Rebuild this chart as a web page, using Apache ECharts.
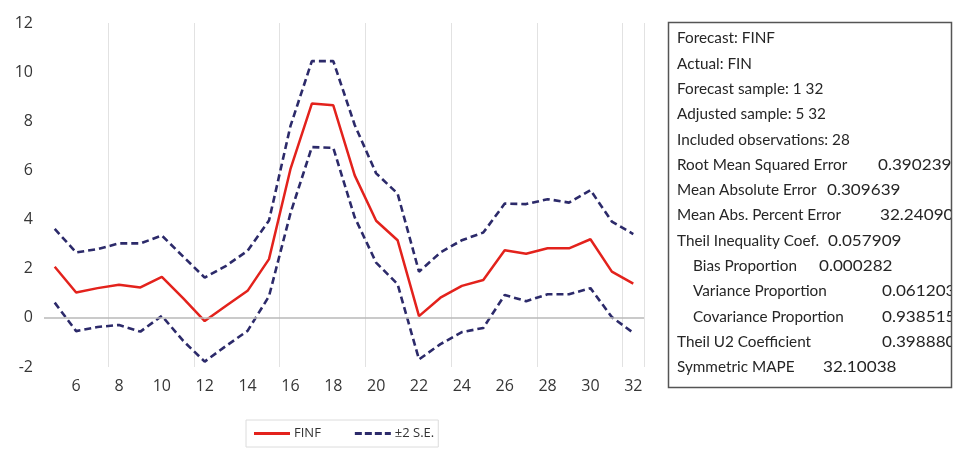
<!DOCTYPE html>
<html>
<head>
<meta charset="utf-8">
<script src="https://cdn.jsdelivr.net/npm/echarts@6/dist/echarts.min.js"></script>
<style>
html,body{margin:0;padding:0;background:#fff;}
#chart{width:954px;height:449px;}
</style>
</head>
<body>
<div id="chart"></div>
<script>
// ---- data ----
var categories = ['5','6','7','8','9','10','11','12','13','14','15','16','17','18','19','20','21','22','23','24','25','26','27','28','29','30','31','32'];
var finf  = [2.08,1.03,1.21,1.35,1.24,1.67,0.79,-0.13,0.49,1.10,2.39,6.05,8.72,8.65,5.80,3.95,3.16,0.07,0.82,1.30,1.54,2.75,2.61,2.83,2.83,3.20,1.88,1.39];
var upper = [3.62,2.66,2.80,3.03,3.03,3.35,2.49,1.64,2.12,2.73,3.96,7.80,10.45,10.45,7.85,5.88,5.06,1.88,2.66,3.16,3.47,4.65,4.63,4.83,4.69,5.20,3.92,3.41];
var lower = [0.62,-0.54,-0.37,-0.29,-0.56,0.08,-0.94,-1.78,-1.14,-0.53,0.88,4.25,6.95,6.92,4.09,2.25,1.37,-1.69,-1.07,-0.58,-0.41,0.93,0.68,0.96,0.96,1.21,0.03,-0.61];
var yTicks = [-2,0,2,4,6,8,10,12];
var seriesNames = ['FINF','\u00b12 S.E.'];
var statLabels = ['Forecast: FINF','Actual: FIN','Forecast sample: 1 32','Adjusted sample: 5 32','Included observations: 28','Root Mean Squared Error','Mean Absolute Error','Mean Abs. Percent Error','Theil Inequality Coef.','Bias Proportion','Variance Proportion','Covariance Proportion','Theil U2 Coefficient','Symmetric MAPE'];
var statValues = ['','','','','','0.390239','0.309639','32.24090','0.057909','0.000282','0.061203','0.938515','0.398880','32.10038'];

// ---- layout (not data) ----
var statIndent = [0,0,0,0,0,0,0,0,0,1,1,1,0,0];
var statValueX = [0,0,0,0,0,878,827,880,828,819,882,882,882,823];

var graphics = [{
  type:'rect', shape:{x:668.5,y:22.5,width:283,height:365},
  style:{fill:'#fff',stroke:null}, z:0
}];
for (var i=0;i<statLabels.length;i++){
  var cy = 38.5 + i*25.3;
  graphics.push({type:'text', x: statIndent[i]?693:677, y: cy, scaleX:1.02,
    style:{text:statLabels[i], font:'15px Lato', fill:'#262626', textVerticalAlign:'middle'}, z:1});
  if (statValues[i]) {
    graphics.push({type:'text', x: statValueX[i], y: cy, scaleX:1.14,
      style:{text:statValues[i], font:'15px Lato', fill:'#262626', textVerticalAlign:'middle'}, z:1});
  }
}
// mask beyond the right border, then the border on top
graphics.push({type:'rect', shape:{x:952,y:0,width:10,height:449}, style:{fill:'#fff'}, z:2});
graphics.push({type:'rect', shape:{x:668.5,y:22.5,width:283,height:365},
  style:{fill:'none',stroke:'#555',lineWidth:1.5}, z:3});

var solidIcon = 'path://M0,0h36v3h-36z';
var dashIcon = 'path://M0,0h7v3h-7z M10,0h7v3h-7z M20,0h7v3h-7z M30,0h6v3h-6z';

var chart = echarts.init(document.getElementById('chart'), null, {renderer:'canvas'});
var dashStyle = {color:'#2c2a6a', width:2.6, type:[7,4]};
chart.setOption({
  animation:false,
  backgroundColor:'#fff',
  textStyle:{fontFamily:'Open Sans'},
  grid:{left:44, right:310, top:23, bottom:82, containLabel:false},
  legend:{
    data:[{name:seriesNames[0], icon:solidIcon},{name:seriesNames[1], icon:dashIcon}],
    bottom:2, left:246,
    itemWidth:36, itemHeight:3, itemGap:34,
    borderColor:'#dcdcdc', borderWidth:1, padding:[7,4,7,8],
    textStyle:{fontSize:13, color:'#333', fontFamily:'Open Sans', padding:[0,0,0,-1]}
  },
  xAxis:{
    type:'category', data:categories, boundaryGap:true,
    axisLine:{show:false}, axisTick:{show:false},
    axisLabel:{fontSize:16, color:'#363636', margin:11,
      interval:function(idx,val){return (+val)%2===0;}},
    splitLine:{show:true, lineStyle:{color:'#e2e2e2', width:1},
      interval:function(idx,val){return (+val)%4===0;}}
  },
  yAxis:{
    type:'value', min:yTicks[0], max:yTicks[yTicks.length-1], interval:2,
    axisLine:{show:false}, axisTick:{show:false}, splitLine:{show:false},
    axisLabel:{fontSize:16, color:'#363636', margin:11}
  },
  series:[
    {name:seriesNames[0], type:'line', data:finf, symbol:'none',
      lineStyle:{color:'#e3221c', width:2.5}, itemStyle:{color:'#e3221c'}, z:3,
      markLine:{silent:true, symbol:'none', label:{show:false},
        lineStyle:{color:'#b8b8b8', width:1.5, type:'solid'}, data:[{yAxis:0}]}},
    {name:seriesNames[1], type:'line', data:upper, symbol:'none',
      lineStyle:dashStyle, itemStyle:{color:'#2c2a6a'}, z:2},
    {name:seriesNames[1], type:'line', data:lower, symbol:'none',
      lineStyle:dashStyle, itemStyle:{color:'#2c2a6a'}, z:2}
  ],
  graphic:graphics
});
</script>
</body>
</html>
